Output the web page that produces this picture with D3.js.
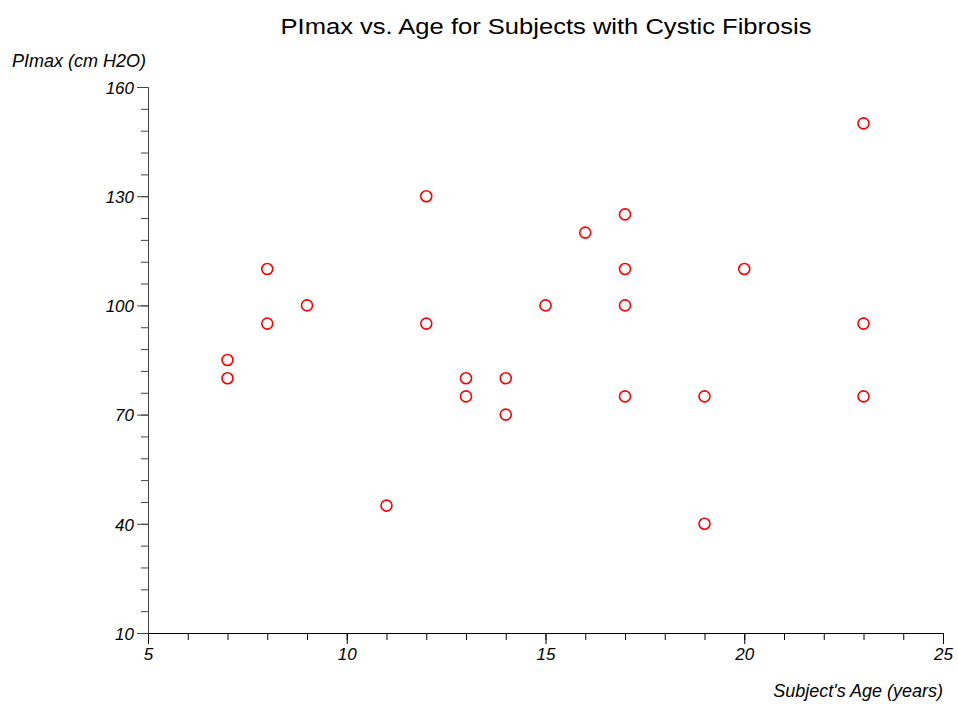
<!DOCTYPE html>
<html>
<head>
<meta charset="utf-8">
<script src="https://cdn.jsdelivr.net/npm/d3@7"></script>
<style>
  body { margin: 0; background: #fff; }
  svg { display: block; font-family: "Liberation Sans", Arial, sans-serif; }
</style>
</head>
<body>
<svg id="chart" width="958" height="704"></svg>
<script>
// Age (years) and maximal inspiratory pressure for each subject
const ages  = [7, 7, 8, 8, 9, 11, 12, 12, 13, 13, 14, 14, 15, 16, 17, 17, 17, 17, 19, 19, 20, 23, 23, 23];
const pimax = [85, 80, 110, 95, 100, 45, 130, 95, 80, 75, 80, 70, 100, 120, 125, 110, 100, 75, 75, 40, 110, 150, 95, 75];
const xTicks = [5, 10, 15, 20, 25];
const yTicks = [10, 40, 70, 100, 130, 160];

const svg = d3.select("#chart");
const plotLeft = 148, plotRight = 943, plotTop = 87, plotBottom = 633;
const tickFont = 17;

const x = d3.scaleLinear().domain([5, 25]).range([plotLeft, plotRight]);
const y = d3.scaleLinear().domain([10, 160]).range([plotBottom, plotTop]);

// Title
svg.append("text")
  .attr("x", 546).attr("y", 34)
  .attr("text-anchor", "middle")
  .attr("font-size", 22)
  .attr("textLength", 531)
  .attr("lengthAdjust", "spacingAndGlyphs")
  .text("PImax vs. Age for Subjects with Cystic Fibrosis");

// X axis: minor ticks every year, major every five
const xAxisG = svg.append("g").attr("transform", `translate(0,${plotBottom})`);
xAxisG.call(d3.axisBottom(x).tickValues(d3.range(5, 26, 1)).tickSize(7).tickFormat(""));
xAxisG.call(g => g.selectAll(".tick line").attr("stroke", "#000"));
const xMajor = svg.append("g").attr("transform", `translate(0,${plotBottom})`)
  .call(d3.axisBottom(x).tickValues(xTicks).tickSize(11).tickPadding(4).tickFormat(d3.format("d")));
xMajor.select(".domain").remove();
xMajor.selectAll("text")
  .attr("font-size", tickFont).attr("font-style", "italic").attr("fill", "#000")
  .attr("font-family", "Liberation Sans, Arial, sans-serif");

// Y axis: minor ticks every 6, major every 30
const yAxisG = svg.append("g").attr("transform", `translate(${plotLeft},0)`);
yAxisG.call(d3.axisLeft(y).tickValues(d3.range(10, 161, 6)).tickSize(7).tickFormat(""));
yAxisG.select(".domain").attr("stroke", "#444");
yAxisG.selectAll(".tick line").attr("stroke", "#444");
const yMajor = svg.append("g").attr("transform", `translate(${plotLeft},0)`)
  .call(d3.axisLeft(y).tickValues(yTicks).tickSize(11).tickPadding(3).tickFormat(d3.format("d")));
yMajor.select(".domain").remove();
yMajor.selectAll(".tick line").attr("stroke", "#444");
yMajor.selectAll("text")
  .attr("dy", "0.37em")
  .attr("font-size", tickFont).attr("font-style", "italic").attr("fill", "#000")
  .attr("font-family", "Liberation Sans, Arial, sans-serif");

// Redraw the x baseline on top in black
svg.append("line")
  .attr("x1", plotLeft).attr("x2", plotRight)
  .attr("y1", plotBottom + 0.5).attr("y2", plotBottom + 0.5)
  .attr("stroke", "#000");

// Axis titles
svg.append("text")
  .attr("x", 12).attr("y", 67)
  .attr("font-size", 18).attr("font-style", "italic")
  .text("PImax (cm H2O)");
svg.append("text")
  .attr("x", 943).attr("y", 697)
  .attr("text-anchor", "end")
  .attr("font-size", 18).attr("font-style", "italic")
  .text("Subject's Age (years)");

// Points
svg.append("g").selectAll("circle")
  .data(ages.map((a, i) => ({ age: a, p: pimax[i] })))
  .join("circle")
  .attr("cx", d => x(d.age))
  .attr("cy", d => y(d.p))
  .attr("r", 5.5)
  .attr("fill", "none")
  .attr("stroke", "#f00")
  .attr("stroke-width", 1.6);
</script>
</body>
</html>
